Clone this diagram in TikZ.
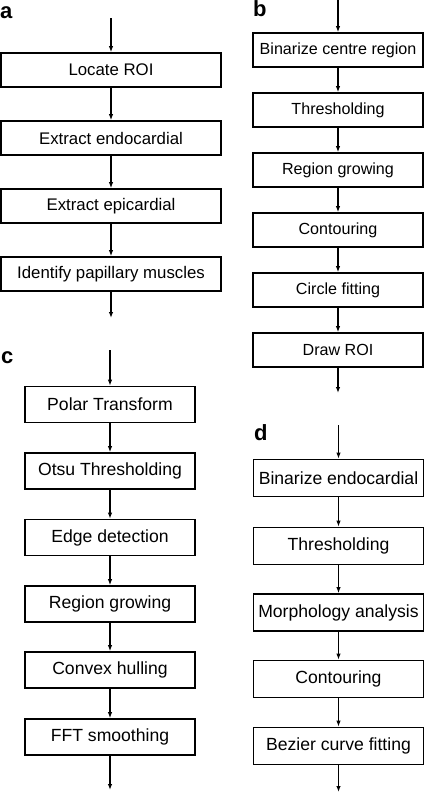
\documentclass[tikz,border=0pt]{standalone}
\usepackage{fontspec}
\setmainfont{Liberation Sans}
\usetikzlibrary{arrows.meta}

\tikzset{
	flowbox/.style={draw, line width=1.8pt, inner sep=0pt},
	flowarr/.style={line width=1.1pt, -{Latex[length=6pt,width=4.5pt]}},
	panellab/.style={anchor=base west, inner sep=0pt, font=\fontsize{22}{24}\selectfont\bfseries},
}

\begin{document}
\begin{tikzpicture}[x=1pt,y=-1pt]
	\useasboundingbox (0,0) rectangle (424,793);
	\def\afont{\fontsize{16.8}{19}\selectfont}
	\def\bfont{\fontsize{16.1}{19}\selectfont}
	\def\cdfont{\fontsize{17.6}{20}\selectfont}

	% panel a
	\begin{scope}[font=\afont]
		\node[panellab] (laba) at (0,18) {a};
		\coordinate (a0) at (111,18);
		\foreach \n/\y/\txt in {1/70/Locate ROI, 2/138/Extract endocardial,
			3/206/Extract epicardial, 4/274/Identify papillary muscles}{
			\node[flowbox, minimum width=220pt, minimum height=34pt] (a\n) at (111,\y) {\txt};
		}
		\coordinate (a5) at (111,318);
		\foreach \i/\j in {0/1,1/2,2/3,3/4,4/5}
			\draw[flowarr] (a\i) -- (a\j);
	\end{scope}

	% panel b
	\begin{scope}[font=\bfont]
		\node[panellab] (labb) at (253,16) {b};
		\coordinate (b0) at (338,0);
		\foreach \n/\y/\txt in {1/50/Binarize centre region, 2/110/Thresholding,
			3/170/Region growing, 4/230/Contouring, 5/290/Circle fitting, 6/350/Draw ROI}{
			\node[flowbox, minimum width=170pt, minimum height=34pt] (b\n) at (338,\y) {\txt};
		}
		\coordinate (b7) at (338,393);
		\foreach \i/\j in {0/1,1/2,2/3,3/4,4/5,5/6,6/7}
			\draw[flowarr] (b\i) -- (b\j);
	\end{scope}

	% panel c
	\begin{scope}[font=\cdfont]
		\node[panellab] (labc) at (1,363) {c};
		\coordinate (c0) at (110,350);
		\foreach \n/\y/\txt in {1/404.5/Polar Transform, 2/471/Otsu Thresholding,
			3/537.5/Edge detection, 4/604/Region growing, 5/670/Convex hulling, 6/737/FFT smoothing}{
			\node[flowbox, minimum width=170pt, minimum height=36pt] (c\n) at (110,\y) {\txt};
		}
		\coordinate (c7) at (110,790);
		\foreach \i/\j in {0/1,1/2,2/3,3/4,4/5,5/6,6/7}
			\draw[flowarr] (c\i) -- (c\j);
	\end{scope}

	% panel d
	\begin{scope}[font=\cdfont]
		\node[panellab] (labd) at (254,440) {d};
		\coordinate (d0) at (338.5,425);
		\foreach \n/\y/\txt in {1/478/Binarize endocardial, 2/546/Thresholding,
			3/612.5/Morphology analysis, 4/679/Contouring, 5/746/Bezier curve fitting}{
			\node[flowbox, minimum width=170pt, minimum height=37pt] (d\n) at (338.5,\y) {\txt};
		}
		\coordinate (d6) at (338.5,792);
		\foreach \i/\j in {0/1,1/2,2/3,3/4,4/5,5/6}
			\draw[flowarr] (d\i) -- (d\j);
	\end{scope}
\end{tikzpicture}
\end{document}
